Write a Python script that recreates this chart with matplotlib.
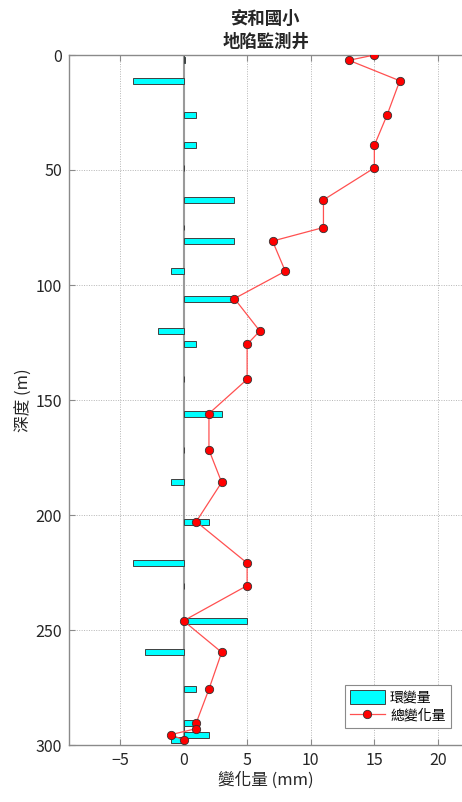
import numpy as np
import matplotlib
matplotlib.use("Agg")
import matplotlib.pyplot as plt

plt.rcParams['font.family'] = ['Noto Sans CJK TC', 'DejaVu Sans']

# monitoring well readings
depth = [0, 2.3, 11.2, 26.1, 39.3, 49.1, 63, 75, 80.9, 94, 105.9, 120, 125.8,
         141, 155.9, 171.7, 185.8, 202.9, 220.9, 230.7, 246, 259.7, 275.7,
         290.4, 292.9, 295.5, 297.8]
total_change = [15, 13, 17, 16, 15, 15, 11, 11, 7, 8, 4, 6, 5, 5, 2, 2, 3, 1,
                5, 5, 0, 3, 2, 1, 1, -1, 0]
ring_change = [0, 0.15, -4, 1, 1, 0, 4, 0, 4, -1, 4, -2, 1, 0, 3, 0, -1, 2,
               -4, 0, 5, -3, 1, 1, 0, 2, -1]

title_text = "安和國小\n地陷監測井"
xlabel_text = "變化量 (mm)"
ylabel_text = "深度 (m)"
legend_labels = ["環變量", "總變化量"]
xticks = [-5, 0, 5, 10, 15, 20]
yticks = [0, 50, 100, 150, 200, 250, 300]

W, H = 462, 802
fig = plt.figure(figsize=(W / 100, H / 100), dpi=100)
ax = fig.add_axes([69 / W, 1 - 745 / H, (463.4 - 69) / W, 690 / H])

axis_gray = "#8a8a8a"
text_col = "#262626"

ax.axvline(0, color="#9a9a9a", lw=1.5, zorder=1)
bars = ax.barh(depth, ring_change, height=2.6, color="#00ffff",
               edgecolor="#404040", linewidth=0.7, zorder=2,
               label=legend_labels[0])
line, = ax.plot(total_change, depth, color="#ff5050", lw=0.9, marker="o",
                markersize=6, markerfacecolor="#ff0000",
                markeredgecolor="#333333", markeredgewidth=0.6, zorder=3,
                label=legend_labels[1])

ax.set_xlim(-9, 22)
ax.set_ylim(300, 0)
ax.set_xticks(xticks)
ax.set_yticks(yticks)
ax.grid(True, color="#b5b5b5", linestyle=(0, (1, 1.5)), lw=0.7, zorder=0)
ax.set_axisbelow(True)

for side in ["left", "top", "bottom"]:
    ax.spines[side].set_color(axis_gray)
    ax.spines[side].set_linewidth(1.0)
ax.spines["right"].set_visible(False)
ax.tick_params(direction="in", length=4, width=0.8, color=axis_gray,
               top=True, right=False, labelsize=11.5, labelcolor=text_col,
               pad=5)

ax.set_title(title_text, fontsize=12.5, fontweight="bold", color=text_col,
             pad=6, linespacing=1.3)
ax.set_xlabel(xlabel_text, fontsize=12, color=text_col, labelpad=2)
ax.set_ylabel(ylabel_text, fontsize=12, color=text_col, labelpad=2)

leg = ax.legend(handles=[bars, line], loc="upper left",
                bbox_to_anchor=(345 / W, 1 - 685 / H),
                bbox_transform=fig.transFigure, fontsize=10,
                fancybox=False, framealpha=1, edgecolor="#8a8a8a",
                handlelength=2.5, handleheight=1.2, borderpad=0.35,
                labelspacing=0.25, handletextpad=0.4, borderaxespad=0)
leg.get_frame().set_linewidth(0.8)

fig.savefig("out.png", dpi=100)
